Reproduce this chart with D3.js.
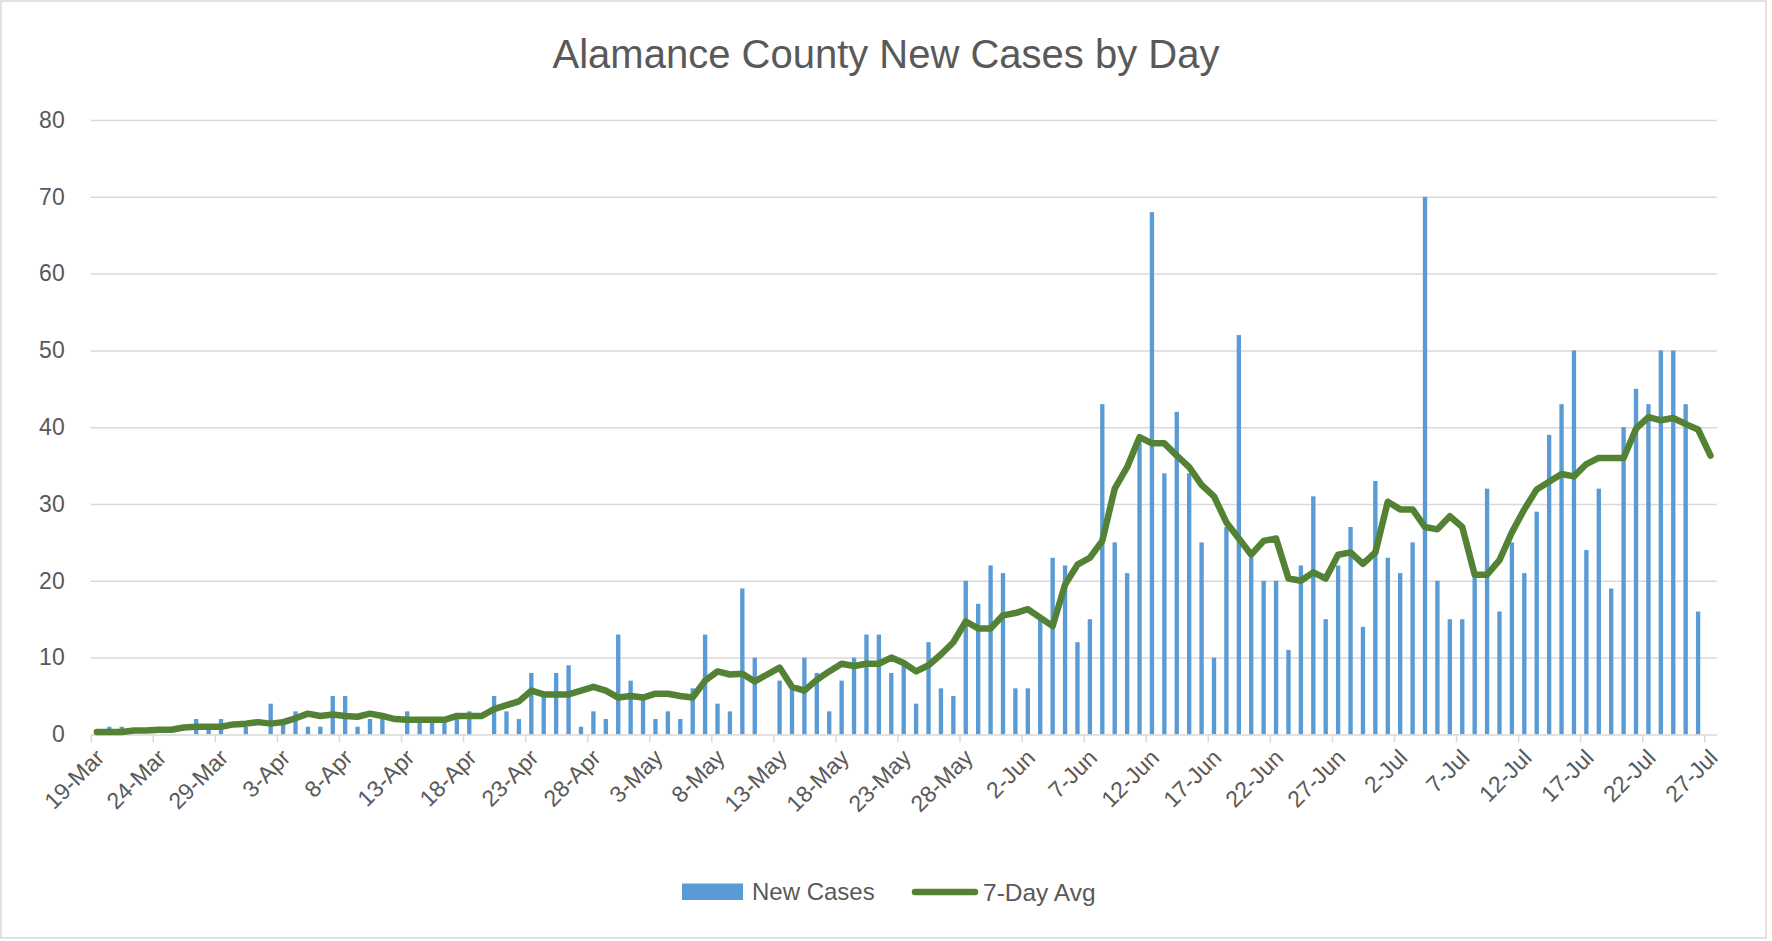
<!DOCTYPE html>
<html>
<head>
<meta charset="utf-8">
<script src="https://cdn.jsdelivr.net/npm/d3@7"></script>
<style>
  html, body { margin: 0; padding: 0; background: #ffffff; }
  svg { display: block; }
  text { font-family: "Liberation Sans", Arial, sans-serif; fill: #595959; }
</style>
</head>
<body>
<svg id="chart" width="1772" height="941"></svg>
<script>
// ---------------- DATA ----------------
const chartTitle = "Alamance County New Cases by Day";
const seriesNames = ["New Cases", "7-Day Avg"];
const startDate = new Date(2020, 2, 19);   // 19-Mar
const endDate = new Date(2020, 6, 28);     // day after 27-Jul
const days = d3.timeDay.range(startDate, endDate); // 131 daily categories

const newCases = [
  0, 1, 1, 0, 0, 0, 0, 0, 2, 1,
  2, 0, 1, 0, 4, 2, 3, 1, 1, 5,
  5, 1, 2, 2, 0, 3, 2, 2, 2, 2,
  3, 0, 5, 3, 2, 8, 5, 8, 9, 1,
  3, 2, 13, 7, 5, 2, 3, 2, 6, 13,
  4, 3, 19, 10, 0, 7, 6, 10, 8, 3,
  7, 10, 13, 13, 8, 9, 4, 12, 6, 5,
  20, 17, 22, 21, 6, 6, 15, 23, 22, 12,
  15, 43, 25, 21, 38, 68, 34, 42, 34, 25,
  10, 27, 52, 23, 20, 20, 11, 22, 31, 15,
  22, 27, 14, 33, 23, 21, 25, 70, 20, 15,
  15, 21, 32, 16, 25, 21, 29, 39, 43, 50,
  24, 32, 19, 40, 45, 43, 50, 50, 43, 16,
  null
];

const sevenDayAvg = [
  0.3, 0.3, 0.3, 0.5, 0.5, 0.6, 0.6, 0.9, 1.0, 1.0,
  1.0, 1.3, 1.4, 1.6, 1.4, 1.6, 2.1, 2.7, 2.4, 2.6,
  2.4, 2.3, 2.7, 2.4, 2.0, 1.9, 1.9, 1.9, 1.9, 2.4,
  2.4, 2.4, 3.3, 3.8, 4.3, 5.7, 5.2, 5.2, 5.2, 5.7,
  6.2, 5.7, 4.8, 5.0, 4.8, 5.3, 5.3, 5.0, 4.8, 7.0,
  8.2, 7.8, 7.9, 6.9, 7.8, 8.7, 6.2, 5.7, 7.1, 8.2,
  9.2, 8.9, 9.2, 9.2, 10.0, 9.3, 8.2, 9.0, 10.4, 12.0,
  14.7, 13.8, 13.8, 15.5, 15.8, 16.3, 15.2, 14.1, 19.5, 22.1,
  23.0, 25.2, 32.0, 34.8, 38.7, 37.9, 37.9, 36.3, 34.8, 32.5,
  31.0, 27.6, 25.5, 23.4, 25.2, 25.5, 20.3, 20.0, 21.1, 20.3,
  23.4, 23.7, 22.2, 23.7, 30.3, 29.3, 29.3, 27.0, 26.7, 28.4,
  27.0, 20.8, 20.8, 22.7, 26.3, 29.3, 31.9, 32.9, 33.9, 33.6,
  35.2, 36.0, 36.0, 36.0, 39.8, 41.3, 40.9, 41.2, 40.4, 39.7,
  36.3
];

const yTicks = [0, 10, 20, 30, 40, 50, 60, 70, 80];
const xTickLabels = [
  "19-Mar", "24-Mar", "29-Mar", "3-Apr", "8-Apr", "13-Apr", "18-Apr",
  "23-Apr", "28-Apr", "3-May", "8-May", "13-May", "18-May", "23-May",
  "28-May", "2-Jun", "7-Jun", "12-Jun", "17-Jun", "22-Jun", "27-Jun",
  "2-Jul", "7-Jul", "12-Jul", "17-Jul", "22-Jul", "27-Jul"
];
const xTickEvery = 5;

// ---------------- LAYOUT ----------------
const W = 1772, H = 941;
const plot = { left: 90.7, right: 1716.7, top: 120, bottom: 734.4 };
const colors = { bar: "#5b9bd5", line: "#548235", grid: "#d9d9d9", text: "#595959" };

const svg = d3.select("#chart");

svg.append("rect")
  .attr("x", 1).attr("y", 1).attr("width", 1765).attr("height", 937)
  .attr("fill", "#ffffff").attr("stroke", "#d9d9d9").attr("stroke-width", 1.5);

const idx = d3.range(days.length);

const x = d3.scaleBand()
  .domain(idx)
  .range([plot.left, plot.right])
  .paddingInner(0.65)
  .paddingOuter(0.325);

const xEdge = d3.scaleLinear()
  .domain([0, days.length])
  .range([plot.left, plot.right]);

const y = d3.scaleLinear().domain([0, 80]).range([plot.bottom, plot.top]);

// gridlines
const grid = svg.append("g")
  .attr("transform", `translate(${plot.left},0)`)
  .call(d3.axisLeft(y).tickValues(yTicks.filter(v => v > 0)).tickSize(-(plot.right - plot.left)).tickFormat(""));
grid.select(".domain").remove();
grid.selectAll("line").attr("stroke", colors.grid).attr("stroke-width", 1.5);

// y labels
const yAx = svg.append("g")
  .attr("transform", `translate(${plot.left},0)`)
  .call(d3.axisLeft(y).tickValues(yTicks).tickSize(0).tickPadding(26));
yAx.select(".domain").remove();
yAx.selectAll("text").style("font-size", "23px").attr("fill", colors.text);

// bars
svg.append("g").selectAll("rect")
  .data(idx.filter(i => newCases[i] != null && newCases[i] > 0))
  .join("rect")
  .attr("x", i => x(i))
  .attr("width", x.bandwidth())
  .attr("y", i => y(newCases[i]))
  .attr("height", i => y(0) - y(newCases[i]))
  .attr("fill", colors.bar);

// x axis line + tick marks at slot boundaries
const tickIdx = idx.filter(i => i % xTickEvery === 0);
const xAxLine = svg.append("g")
  .attr("transform", `translate(0,${plot.bottom})`)
  .call(d3.axisBottom(xEdge).tickValues(tickIdx).tickSize(8).tickSizeOuter(0).tickFormat(""));
xAxLine.select(".domain").attr("stroke", colors.grid).attr("stroke-width", 1.5);
xAxLine.selectAll(".tick line").attr("stroke", colors.grid).attr("stroke-width", 1.5);

// x labels at slot centres, rotated
const xLab = svg.append("g")
  .attr("transform", `translate(0,${plot.bottom})`)
  .call(d3.axisBottom(x).tickValues(tickIdx).tickSize(0)
    .tickFormat((d, k) => xTickLabels[k]));
xLab.select(".domain").remove();
xLab.selectAll("text")
  .style("font-size", "23px")
  .attr("fill", colors.text)
  .attr("text-anchor", "end")
  .attr("x", 0).attr("y", 0).attr("dy", "0.35em")
  .attr("transform", "translate(3,19) rotate(-45)");

// 7-day line
const line = d3.line()
  .x((d, i) => x(i) + x.bandwidth() / 2)
  .y(d => y(d));
svg.append("path")
  .datum(sevenDayAvg)
  .attr("d", line)
  .attr("fill", "none")
  .attr("stroke", colors.line)
  .attr("stroke-width", 6.5)
  .attr("stroke-linejoin", "round")
  .attr("stroke-linecap", "round");

// title
svg.append("text")
  .attr("x", 886).attr("y", 68)
  .attr("text-anchor", "middle")
  .style("font-size", "40px")
  .attr("fill", colors.text)
  .text(chartTitle);

// legend
const lg = svg.append("g");
lg.append("rect").attr("x", 682).attr("y", 883.5).attr("width", 61).attr("height", 16.5).attr("fill", colors.bar);
lg.append("text").attr("x", 752).attr("y", 892).attr("dy", "0.35em").style("font-size", "24px").text(seriesNames[0]);
lg.append("line").attr("x1", 915).attr("x2", 975).attr("y1", 892).attr("y2", 892)
  .attr("stroke", colors.line).attr("stroke-width", 6.5).attr("stroke-linecap", "round");
lg.append("text").attr("x", 983).attr("y", 892).attr("dy", "0.35em").style("font-size", "24.5px").text(seriesNames[1]);
</script>
</body>
</html>
